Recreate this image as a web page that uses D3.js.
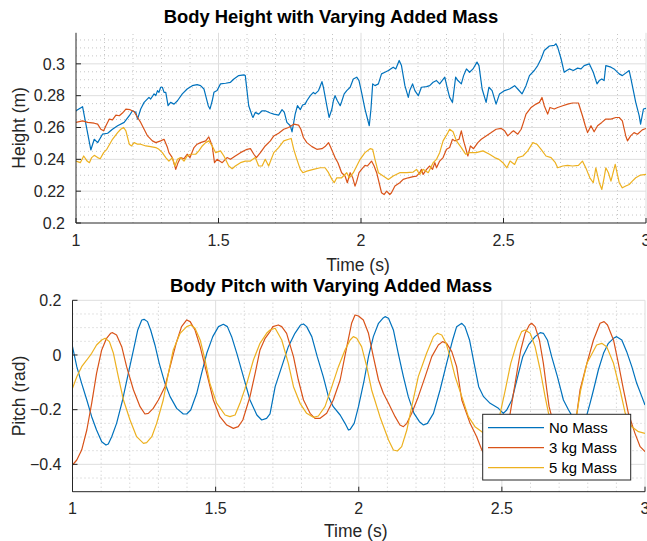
<!DOCTYPE html>
<html><head><meta charset="utf-8">
<script src="https://cdn.jsdelivr.net/npm/d3@7"></script>
<style>body{margin:0;background:#fff}svg{display:block;font-family:"Liberation Sans",Arial,Helvetica,sans-serif}</style>
</head><body><svg id="c" width="647" height="541"></svg>
<script>
// ---------- DATA ----------
const seriesNames = ["No Mass", "3 kg Mass", "5 kg Mass"];
const xTicks = [1, 1.5, 2, 2.5, 3];
const heightTicks = [0.2, 0.22, 0.24, 0.26, 0.28, 0.3];
const pitchTicks = [-0.4, -0.2, 0, 0.2];

const heightNoMass = [[1.0,0.2705],[1.023,0.2731],[1.052,0.2459],[1.064,0.2526],[1.076,0.2505],[1.093,0.2558],[1.111,0.2564],[1.128,0.2589],[1.146,0.2611],[1.169,0.2632],[1.187,0.2674],[1.198,0.2705],[1.210,0.2695],[1.216,0.2653],[1.227,0.2716],[1.239,0.2758],[1.256,0.2789],[1.262,0.2779],[1.274,0.2811],[1.280,0.2800],[1.286,0.2832],[1.291,0.2821],[1.297,0.2853],[1.303,0.2853],[1.309,0.2821],[1.315,0.2821],[1.323,0.2737],[1.332,0.2758],[1.344,0.2747],[1.356,0.2768],[1.373,0.2811],[1.390,0.2842],[1.408,0.2863],[1.425,0.2869],[1.437,0.2863],[1.449,0.2842],[1.455,0.2800],[1.464,0.2737],[1.470,0.2716],[1.478,0.2768],[1.484,0.2821],[1.495,0.2832],[1.507,0.2874],[1.525,0.2878],[1.542,0.2884],[1.554,0.2905],[1.571,0.2926],[1.589,0.2931],[1.594,0.2926],[1.606,0.2737],[1.618,0.2674],[1.621,0.2663],[1.629,0.2695],[1.641,0.2684],[1.653,0.2705],[1.664,0.2705],[1.682,0.2691],[1.694,0.2684],[1.711,0.2678],[1.723,0.2712],[1.731,0.2695],[1.740,0.2632],[1.752,0.2611],[1.758,0.2573],[1.764,0.2632],[1.769,0.2684],[1.777,0.2737],[1.787,0.2712],[1.795,0.2741],[1.804,0.2747],[1.810,0.2768],[1.822,0.2800],[1.833,0.2821],[1.839,0.2811],[1.851,0.2832],[1.863,0.2888],[1.868,0.2853],[1.880,0.2737],[1.888,0.2663],[1.898,0.2716],[1.903,0.2768],[1.909,0.2800],[1.917,0.2768],[1.927,0.2737],[1.932,0.2762],[1.941,0.2811],[1.950,0.2832],[1.962,0.2853],[1.973,0.2905],[1.985,0.2916],[1.993,0.2895],[2.002,0.2821],[2.014,0.2716],[2.029,0.2611],[2.035,0.2716],[2.041,0.2874],[2.049,0.2863],[2.061,0.2874],[2.072,0.2937],[2.084,0.2947],[2.096,0.2958],[2.113,0.2979],[2.122,0.2968],[2.134,0.3021],[2.142,0.2989],[2.154,0.2863],[2.166,0.2789],[2.171,0.2832],[2.181,0.2874],[2.189,0.2832],[2.201,0.2800],[2.212,0.2853],[2.230,0.2857],[2.241,0.2863],[2.253,0.2884],[2.265,0.2895],[2.276,0.2874],[2.294,0.2916],[2.302,0.2853],[2.311,0.2789],[2.321,0.2758],[2.332,0.2916],[2.340,0.2895],[2.352,0.2874],[2.360,0.2926],[2.370,0.2968],[2.381,0.2947],[2.393,0.2968],[2.407,0.3011],[2.414,0.2989],[2.425,0.2842],[2.439,0.2758],[2.449,0.2853],[2.460,0.2832],[2.474,0.2747],[2.486,0.2811],[2.504,0.2832],[2.521,0.2842],[2.539,0.2863],[2.550,0.2842],[2.565,0.2811],[2.579,0.2863],[2.591,0.2926],[2.608,0.2958],[2.620,0.2989],[2.632,0.3032],[2.643,0.3084],[2.661,0.3112],[2.678,0.3116],[2.684,0.3126],[2.690,0.3105],[2.702,0.3032],[2.713,0.2947],[2.722,0.2958],[2.731,0.2968],[2.745,0.2958],[2.760,0.2973],[2.772,0.2968],[2.783,0.2989],[2.801,0.3000],[2.815,0.2947],[2.828,0.2874],[2.836,0.2895],[2.845,0.2905],[2.853,0.2895],[2.859,0.2989],[2.877,0.2979],[2.888,0.2968],[2.906,0.2937],[2.917,0.2926],[2.941,0.2958],[2.946,0.2916],[2.964,0.2758],[2.976,0.2674],[2.981,0.2621],[2.991,0.2716],[3.0,0.2720]];

const height3kg = [[1.0,0.2632],[1.023,0.2642],[1.041,0.2632],[1.064,0.2627],[1.076,0.2621],[1.087,0.2589],[1.097,0.2579],[1.105,0.2611],[1.117,0.2653],[1.128,0.2648],[1.140,0.2678],[1.152,0.2674],[1.163,0.2691],[1.175,0.2716],[1.190,0.2712],[1.204,0.2699],[1.216,0.2663],[1.227,0.2632],[1.239,0.2589],[1.251,0.2547],[1.268,0.2516],[1.280,0.2505],[1.297,0.2516],[1.309,0.2526],[1.321,0.2474],[1.326,0.2442],[1.338,0.2411],[1.350,0.2337],[1.358,0.2379],[1.367,0.2411],[1.379,0.2404],[1.390,0.2432],[1.400,0.2411],[1.414,0.2474],[1.425,0.2495],[1.437,0.2505],[1.455,0.2516],[1.466,0.2541],[1.478,0.2484],[1.486,0.2379],[1.495,0.2400],[1.513,0.2379],[1.530,0.2411],[1.542,0.2400],[1.559,0.2421],[1.577,0.2442],[1.600,0.2463],[1.612,0.2467],[1.624,0.2432],[1.633,0.2411],[1.647,0.2442],[1.664,0.2484],[1.682,0.2516],[1.694,0.2547],[1.711,0.2564],[1.729,0.2589],[1.746,0.2600],[1.764,0.2621],[1.781,0.2615],[1.789,0.2589],[1.798,0.2537],[1.810,0.2505],[1.828,0.2480],[1.845,0.2463],[1.863,0.2467],[1.874,0.2480],[1.886,0.2505],[1.894,0.2474],[1.909,0.2411],[1.919,0.2379],[1.932,0.2316],[1.944,0.2295],[1.952,0.2253],[1.962,0.2316],[1.971,0.2284],[1.979,0.2232],[1.985,0.2263],[1.993,0.2316],[2.002,0.2337],[2.014,0.2362],[2.022,0.2358],[2.037,0.2389],[2.046,0.2358],[2.055,0.2316],[2.072,0.2190],[2.081,0.2179],[2.090,0.2200],[2.101,0.2179],[2.107,0.2190],[2.119,0.2232],[2.136,0.2253],[2.148,0.2274],[2.166,0.2284],[2.183,0.2291],[2.195,0.2295],[2.206,0.2316],[2.212,0.2337],[2.218,0.2305],[2.230,0.2337],[2.241,0.2358],[2.251,0.2337],[2.259,0.2379],[2.265,0.2347],[2.276,0.2389],[2.288,0.2411],[2.300,0.2463],[2.311,0.2474],[2.321,0.2526],[2.329,0.2516],[2.344,0.2526],[2.352,0.2579],[2.360,0.2516],[2.375,0.2421],[2.384,0.2484],[2.395,0.2467],[2.410,0.2505],[2.422,0.2526],[2.439,0.2547],[2.457,0.2568],[2.474,0.2589],[2.492,0.2594],[2.504,0.2579],[2.515,0.2547],[2.527,0.2568],[2.535,0.2579],[2.550,0.2558],[2.562,0.2589],[2.570,0.2632],[2.579,0.2684],[2.597,0.2726],[2.614,0.2747],[2.626,0.2758],[2.635,0.2789],[2.643,0.2737],[2.655,0.2684],[2.663,0.2726],[2.678,0.2716],[2.690,0.2726],[2.708,0.2737],[2.725,0.2747],[2.742,0.2754],[2.763,0.2754],[2.777,0.2674],[2.787,0.2611],[2.795,0.2568],[2.807,0.2611],[2.818,0.2573],[2.830,0.2611],[2.845,0.2632],[2.859,0.2653],[2.877,0.2653],[2.894,0.2663],[2.906,0.2663],[2.917,0.2642],[2.929,0.2547],[2.935,0.2516],[2.946,0.2547],[2.958,0.2568],[2.970,0.2558],[2.987,0.2585],[3.0,0.2594]];

const height5kg = [[1.0,0.2389],[1.015,0.2379],[1.027,0.2421],[1.039,0.2389],[1.047,0.2379],[1.055,0.2411],[1.064,0.2425],[1.076,0.2411],[1.085,0.2404],[1.097,0.2442],[1.108,0.2463],[1.128,0.2526],[1.146,0.2568],[1.157,0.2589],[1.167,0.2600],[1.175,0.2579],[1.187,0.2495],[1.195,0.2484],[1.204,0.2505],[1.216,0.2495],[1.227,0.2495],[1.245,0.2484],[1.262,0.2480],[1.280,0.2474],[1.291,0.2463],[1.303,0.2442],[1.315,0.2411],[1.326,0.2389],[1.338,0.2411],[1.347,0.2358],[1.356,0.2400],[1.367,0.2411],[1.379,0.2389],[1.390,0.2421],[1.402,0.2432],[1.420,0.2432],[1.431,0.2453],[1.443,0.2484],[1.455,0.2505],[1.466,0.2516],[1.478,0.2484],[1.490,0.2442],[1.507,0.2453],[1.519,0.2421],[1.536,0.2358],[1.548,0.2341],[1.559,0.2358],[1.577,0.2379],[1.594,0.2389],[1.612,0.2389],[1.629,0.2411],[1.641,0.2358],[1.653,0.2358],[1.664,0.2400],[1.676,0.2358],[1.694,0.2442],[1.711,0.2474],[1.729,0.2516],[1.746,0.2526],[1.755,0.2531],[1.764,0.2463],[1.775,0.2400],[1.787,0.2337],[1.796,0.2316],[1.810,0.2326],[1.833,0.2337],[1.857,0.2347],[1.874,0.2347],[1.886,0.2316],[1.898,0.2274],[1.906,0.2253],[1.915,0.2284],[1.932,0.2284],[1.950,0.2316],[1.959,0.2284],[1.973,0.2316],[1.985,0.2358],[1.997,0.2400],[2.014,0.2442],[2.032,0.2467],[2.041,0.2463],[2.049,0.2400],[2.061,0.2316],[2.078,0.2295],[2.096,0.2274],[2.113,0.2295],[2.136,0.2316],[2.160,0.2316],[2.183,0.2320],[2.195,0.2337],[2.206,0.2305],[2.218,0.2337],[2.236,0.2316],[2.253,0.2379],[2.265,0.2400],[2.276,0.2442],[2.288,0.2516],[2.305,0.2568],[2.311,0.2589],[2.323,0.2573],[2.335,0.2516],[2.352,0.2474],[2.367,0.2432],[2.381,0.2442],[2.404,0.2442],[2.428,0.2453],[2.451,0.2432],[2.469,0.2411],[2.484,0.2400],[2.498,0.2379],[2.512,0.2347],[2.523,0.2389],[2.539,0.2368],[2.550,0.2411],[2.568,0.2421],[2.585,0.2453],[2.603,0.2505],[2.617,0.2495],[2.632,0.2463],[2.649,0.2421],[2.667,0.2411],[2.682,0.2379],[2.690,0.2347],[2.708,0.2358],[2.725,0.2362],[2.742,0.2358],[2.763,0.2362],[2.777,0.2389],[2.791,0.2337],[2.803,0.2284],[2.815,0.2253],[2.824,0.2347],[2.836,0.2253],[2.845,0.2211],[2.853,0.2284],[2.859,0.2347],[2.868,0.2316],[2.877,0.2263],[2.892,0.2368],[2.906,0.2253],[2.917,0.2221],[2.929,0.2232],[2.941,0.2242],[2.952,0.2263],[2.964,0.2284],[2.981,0.2301],[3.0,0.2305]];

const pitchNoMass = [[1.0,0.0305],[1.015,-0.0427],[1.032,-0.1037],[1.050,-0.1646],[1.067,-0.2256],[1.084,-0.2744],[1.102,-0.3171],[1.117,-0.3293],[1.125,-0.3256],[1.137,-0.2988],[1.154,-0.2500],[1.175,-0.1646],[1.195,-0.0671],[1.213,0.0183],[1.228,0.0915],[1.242,0.1280],[1.250,0.1305],[1.262,0.1220],[1.273,0.0915],[1.288,0.0366],[1.303,-0.0305],[1.323,-0.1037],[1.341,-0.1524],[1.364,-0.1951],[1.387,-0.2159],[1.399,-0.2159],[1.413,-0.2012],[1.434,-0.1402],[1.451,-0.0671],[1.469,0.0061],[1.490,0.0671],[1.510,0.1037],[1.527,0.1122],[1.541,0.1037],[1.556,0.0671],[1.574,0.0061],[1.597,-0.0793],[1.620,-0.1646],[1.644,-0.2195],[1.661,-0.2378],[1.678,-0.2317],[1.690,-0.2150],[1.708,-0.1159],[1.731,-0.0427],[1.754,0.0305],[1.777,0.0793],[1.797,0.1098],[1.807,0.1134],[1.818,0.1037],[1.836,0.0671],[1.855,-0.0061],[1.876,-0.0793],[1.894,-0.1524],[1.911,-0.1890],[1.935,-0.2195],[1.952,-0.2500],[1.964,-0.2744],[1.970,-0.2720],[1.984,-0.2500],[1.999,-0.1890],[2.019,-0.0915],[2.034,-0.0061],[2.051,0.0671],[2.069,0.1159],[2.084,0.1341],[2.092,0.1402],[2.104,0.1341],[2.121,0.0915],[2.138,0.0061],[2.156,-0.0793],[2.173,-0.1524],[2.193,-0.2134],[2.212,-0.2439],[2.226,-0.2561],[2.240,-0.2500],[2.261,-0.2134],[2.284,-0.1280],[2.307,-0.0305],[2.328,0.0549],[2.342,0.1037],[2.360,0.1159],[2.371,0.1037],[2.387,0.0549],[2.403,-0.0305],[2.419,-0.1159],[2.436,-0.1524],[2.459,-0.1768],[2.488,-0.1951],[2.505,-0.2134],[2.517,-0.2012],[2.535,-0.1646],[2.558,-0.0671],[2.573,-0.0061],[2.593,0.0366],[2.616,0.0671],[2.634,0.0817],[2.645,0.0793],[2.659,0.0549],[2.674,-0.0061],[2.694,-0.0793],[2.715,-0.1646],[2.733,-0.2012],[2.750,-0.2317],[2.770,-0.2550],[2.790,-0.2450],[2.808,-0.1768],[2.820,-0.1280],[2.837,-0.0549],[2.855,0.0061],[2.872,0.0427],[2.890,0.0610],[2.901,0.0671],[2.919,0.0549],[2.936,0.0122],[2.954,-0.0427],[2.971,-0.1037],[2.989,-0.1524],[3.0,-0.1829]];

const pitch3kg = [[1.0,-0.4024],[1.015,-0.3841],[1.032,-0.3476],[1.050,-0.2744],[1.067,-0.1768],[1.084,-0.0671],[1.102,0.0183],[1.119,0.0610],[1.133,0.0793],[1.140,0.0817],[1.154,0.0732],[1.172,0.0305],[1.189,-0.0427],[1.213,-0.1280],[1.236,-0.1890],[1.253,-0.2159],[1.265,-0.2134],[1.282,-0.1951],[1.300,-0.1646],[1.323,-0.1159],[1.341,-0.0427],[1.362,0.0427],[1.381,0.1037],[1.399,0.1280],[1.411,0.1220],[1.428,0.0915],[1.446,0.0305],[1.469,-0.0671],[1.492,-0.1646],[1.515,-0.2256],[1.539,-0.2561],[1.562,-0.2683],[1.579,-0.2622],[1.595,-0.2378],[1.620,-0.1524],[1.638,-0.0671],[1.655,0.0183],[1.673,0.0610],[1.690,0.0854],[1.700,0.1037],[1.719,0.1098],[1.731,0.1037],[1.748,0.0793],[1.772,-0.0061],[1.789,-0.0915],[1.807,-0.1646],[1.830,-0.2134],[1.847,-0.2317],[1.865,-0.2317],[1.888,-0.2134],[1.911,-0.1646],[1.935,-0.0915],[1.956,0.0183],[1.975,0.1159],[1.987,0.1463],[1.999,0.1427],[2.016,0.1280],[2.034,0.0793],[2.051,-0.0061],[2.069,-0.0915],[2.086,-0.1402],[2.104,-0.1768],[2.127,-0.2256],[2.144,-0.2561],[2.156,-0.2622],[2.168,-0.2500],[2.185,-0.2134],[2.208,-0.1524],[2.232,-0.0793],[2.255,-0.0061],[2.278,0.0366],[2.293,0.0488],[2.307,0.0427],[2.325,0.0122],[2.342,-0.0427],[2.360,-0.1646],[2.389,-0.2500],[2.412,-0.2988],[2.430,-0.3476],[2.448,-0.3800],[2.465,-0.3900],[2.485,-0.3600],[2.510,-0.2900],[2.529,-0.2134],[2.552,-0.0671],[2.566,0.0183],[2.581,0.0793],[2.596,0.1098],[2.604,0.1159],[2.616,0.1037],[2.631,0.0549],[2.645,-0.0305],[2.657,-0.1280],[2.665,-0.1890],[2.680,-0.2500],[2.700,-0.3000],[2.725,-0.3200],[2.750,-0.2900],[2.762,-0.2134],[2.773,-0.1280],[2.797,-0.0305],[2.820,0.0549],[2.843,0.1159],[2.857,0.1220],[2.869,0.1098],[2.890,0.0549],[2.907,-0.0305],[2.925,-0.1280],[2.942,-0.2134],[2.965,-0.2866],[2.983,-0.3354],[3.0,-0.3537]];

const pitch5kg = [[1.0,-0.1220],[1.015,-0.0793],[1.032,-0.0427],[1.050,-0.0183],[1.067,0.0061],[1.084,0.0366],[1.102,0.0549],[1.114,0.0610],[1.129,0.0488],[1.143,0.0061],[1.160,-0.0793],[1.178,-0.1646],[1.201,-0.2378],[1.224,-0.2988],[1.248,-0.3232],[1.259,-0.3207],[1.277,-0.2988],[1.294,-0.2500],[1.317,-0.1646],[1.335,-0.0671],[1.352,0.0183],[1.376,0.0793],[1.399,0.1037],[1.413,0.1098],[1.428,0.0976],[1.446,0.0549],[1.463,-0.0183],[1.480,-0.1037],[1.504,-0.1768],[1.533,-0.2195],[1.550,-0.2256],[1.568,-0.2195],[1.585,-0.1768],[1.609,-0.1037],[1.632,-0.0183],[1.655,0.0427],[1.678,0.0793],[1.690,0.0915],[1.708,0.0976],[1.731,0.0549],[1.754,-0.0305],[1.772,-0.1159],[1.795,-0.1768],[1.818,-0.2134],[1.841,-0.2280],[1.859,-0.2232],[1.882,-0.1890],[1.906,-0.1159],[1.929,-0.0427],[1.952,0.0183],[1.970,0.0549],[1.981,0.0671],[1.993,0.0610],[2.010,0.0305],[2.028,-0.0427],[2.045,-0.1280],[2.074,-0.2256],[2.104,-0.3110],[2.121,-0.3476],[2.135,-0.3512],[2.150,-0.3354],[2.168,-0.2744],[2.185,-0.1890],[2.208,-0.0793],[2.237,0.0061],[2.261,0.0671],[2.275,0.0793],[2.290,0.0732],[2.305,0.0427],[2.319,-0.0061],[2.337,-0.0800],[2.360,-0.1524],[2.383,-0.2256],[2.406,-0.2622],[2.430,-0.2805],[2.452,-0.3000],[2.470,-0.2950],[2.485,-0.2600],[2.494,-0.2134],[2.512,-0.1280],[2.531,-0.0305],[2.552,0.0427],[2.569,0.0854],[2.581,0.0915],[2.599,0.0793],[2.616,0.0305],[2.634,-0.0549],[2.651,-0.1524],[2.663,-0.2134],[2.690,-0.2700],[2.720,-0.2800],[2.745,-0.2500],[2.762,-0.2134],[2.775,-0.1300],[2.797,-0.0305],[2.831,0.0366],[2.849,0.0427],[2.866,0.0305],[2.890,-0.0305],[2.913,-0.1280],[2.931,-0.2134],[2.954,-0.2622],[2.977,-0.2805],[3.0,-0.2866]];

// ---------- DRAWING ----------
const colors = ["#0072BD", "#D95319", "#EDB120"];
const svg = d3.select("#c");
const AX = "#262626";

function panel(o) {
  const x = d3.scaleLinear().domain([1, 3]).range(o.xr);
  const y = d3.scaleLinear().domain(o.yd).range(o.yr);
  const g = svg.append("g");
  const [x0, x1] = o.xr; const yb = o.yr[0], yt = o.yr[1];
  const minorX = d3.range(1, 20).filter(i => i % 5 !== 0).map(i => 1 + i / 10);
  g.selectAll(".mx").data(minorX).join("line")
    .attr("x1", d => x(d)).attr("x2", d => x(d)).attr("y1", yb).attr("y2", yt)
    .attr("stroke", "#c6c6c6").attr("stroke-width", 1).attr("stroke-dasharray", "1,3");
  g.selectAll(".my").data(o.minorY).join("line")
    .attr("x1", x0).attr("x2", x1).attr("y1", d => y(d)).attr("y2", d => y(d))
    .attr("stroke", "#c6c6c6").attr("stroke-width", 1).attr("stroke-dasharray", "1,3");
  g.selectAll(".gx").data(xTicks.slice(1)).join("line")
    .attr("x1", d => x(d)).attr("x2", d => x(d)).attr("y1", yb).attr("y2", yt)
    .attr("stroke", "#dedede").attr("stroke-width", 1);
  g.selectAll(".gy").data(o.yTicks.filter(v => y(v) < yb - 1)).join("line")
    .attr("x1", x0).attr("x2", x1).attr("y1", d => y(d)).attr("y2", d => y(d))
    .attr("stroke", "#dedede").attr("stroke-width", 1);
  const clipId = "clip" + o.id;
  svg.append("clipPath").attr("id", clipId).append("rect")
    .attr("x", x0).attr("y", yt).attr("width", x1 - x0).attr("height", yb - yt);
  const line = d3.line().x(d => x(d[0])).y(d => y(d[1]));
  g.append("g").attr("clip-path", `url(#${clipId})`).selectAll("path").data(o.series).join("path")
    .attr("d", d => line(d)).attr("fill", "none")
    .attr("stroke", (d, i) => colors[i]).attr("stroke-width", 1.2).attr("stroke-linejoin", "round");
  g.append("line").attr("x1", x0).attr("x2", x0).attr("y1", yt).attr("y2", yb).attr("stroke", AX).attr("stroke-width", 1);
  g.append("line").attr("x1", x0).attr("x2", x1).attr("y1", yb).attr("y2", yb).attr("stroke", AX).attr("stroke-width", 1);
  g.selectAll(".tx").data(xTicks).join("line")
    .attr("x1", d => x(d)).attr("x2", d => x(d)).attr("y1", yb).attr("y2", yb - 5).attr("stroke", AX);
  g.selectAll(".ty").data(o.yTicks).join("line")
    .attr("x1", x0).attr("x2", x0 + 5).attr("y1", d => y(d)).attr("y2", d => y(d)).attr("stroke", AX);
  g.selectAll(".lx").data(xTicks).join("text")
    .attr("x", d => x(d)).attr("y", o.xLabY).attr("text-anchor", "middle")
    .attr("font-size", 16).attr("fill", AX).text(d => d3.format("")(d));
  g.selectAll(".ly").data(o.yTicks).join("text")
    .attr("x", x0 - 11).attr("y", d => y(d) + 5.7).attr("text-anchor", "end")
    .attr("font-size", 16).attr("fill", AX).text(d => d3.format("")(d));
  g.append("text").attr("x", (x0 + x1) / 2 - 3).attr("y", o.xTitleY).attr("text-anchor", "middle")
    .attr("font-size", 17.5).attr("fill", AX).text("Time (s)");
  g.append("text").attr("transform", `translate(25,${(yb + yt) / 2}) rotate(-90)`).attr("text-anchor", "middle")
    .attr("font-size", 17.5).attr("fill", AX).text(o.ylabel);
  g.append("text").attr("x", 331).attr("y", o.titleY).attr("text-anchor", "middle")
    .attr("font-size", 18.4).attr("font-weight", "bold").attr("fill", "#000").text(o.title);
  return { x, y, g };
}

panel({
  id: 1, xr: [76, 646], yd: [0.2, 0.3195], yr: [223, 32.8],
  yTicks: heightTicks, minorY: d3.range(1, 24).filter(i => i % 4 !== 0).map(i => 0.2 + i * 0.005),
  series: [heightNoMass, height3kg, height5kg],
  xLabY: 245.7, xTitleY: 271, titleY: 22.7,
  ylabel: "Height (m)", title: "Body Height with Varying Added Mass"
});

panel({
  id: 2, xr: [72.5, 645], yd: [-0.5, 0.2], yr: [491.7, 300.3],
  yTicks: pitchTicks, minorY: d3.range(1, 14).filter(i => i % 4 !== 2).map(i => -0.5 + i * 0.05),
  series: [pitchNoMass, pitch3kg, pitch5kg],
  xLabY: 513.5, xTitleY: 537, titleY: 291.5,
  ylabel: "Pitch (rad)", title: "Body Pitch with Varying Added Mass"
});

// legend
const lg = svg.append("g");
lg.append("rect").attr("x", 482.7).attr("y", 414.3).attr("width", 148).attr("height", 65.7)
  .attr("fill", "#fff").attr("stroke", AX).attr("stroke-width", 1);
seriesNames.forEach((name, i) => {
  const cy = 427.7 + i * 20;
  lg.append("line").attr("x1", 488).attr("x2", 544).attr("y1", cy).attr("y2", cy)
    .attr("stroke", colors[i]).attr("stroke-width", 1.2);
  lg.append("text").attr("x", 549).attr("y", cy + 5.3).attr("font-size", 14.9).attr("fill", "#000").text(name);
});
</script></body></html>
